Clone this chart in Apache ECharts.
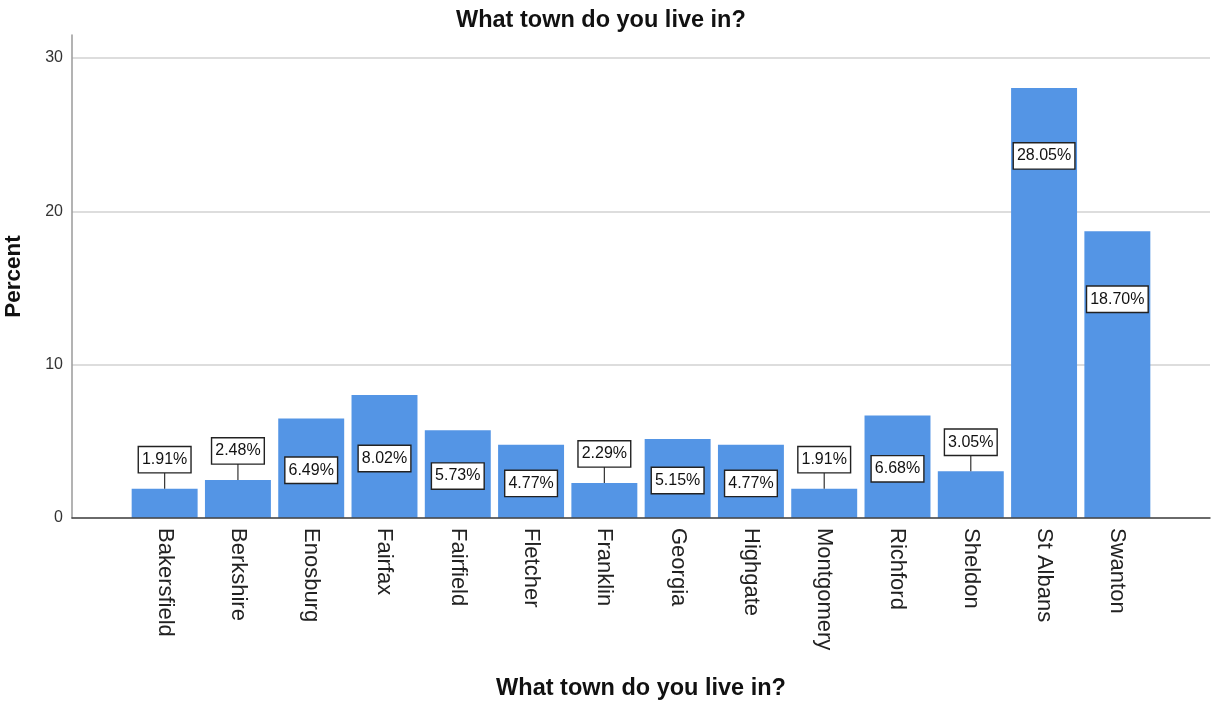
<!DOCTYPE html>
<html>
<head>
<meta charset="utf-8">
<script src="https://cdn.jsdelivr.net/npm/echarts@6/dist/echarts.min.js"></script>
<style>
html,body{margin:0;padding:0;background:#fff;}
#chart{width:1213px;height:702px;}
</style>
</head>
<body>
<div id="chart"></div>
<script>
const categories = ['Bakersfield','Berkshire','Enosburg','Fairfax','Fairfield','Fletcher','Franklin','Georgia','Highgate','Montgomery','Richford','Sheldon','St Albans','Swanton'];
const percents = [1.91, 2.48, 6.49, 8.02, 5.73, 4.77, 2.29, 5.15, 4.77, 1.91, 6.68, 3.05, 28.05, 18.70];
const yTicks = [0, 10, 20, 30];

const FONT = '"Liberation Sans", Arial, sans-serif';
const BAR_COLOR = '#5495e5';
const Y_MAX = 31.5;
const GRID_TOP = 35;
const GRID_BOTTOM = 184;

const chart = echarts.init(document.getElementById('chart'));

function renderLabel(params, api) {
  const i = api.value(0);
  const v = api.value(1);
  const top = api.coord([i, v]);
  const base = api.coord([i, 0]);
  const h = base[1] - top[1];
  const text = v.toFixed(2) + '%';
  const children = [];
  let cy;
  if (v < 4) {
    const gap = 16;
    children.push({
      type: 'line',
      shape: { x1: top[0], y1: top[1], x2: top[0], y2: top[1] - gap },
      style: { stroke: '#333', lineWidth: 1.2 }
    });
    cy = top[1] - gap - 13;
  } else {
    cy = top[1] + Math.min(h / 2 + 2, 68);
  }
  children.push({
    type: 'text',
    x: top[0],
    y: cy,
    style: {
      text: text,
      align: 'center',
      verticalAlign: 'middle',
      font: '16px ' + FONT,
      fill: '#111',
      backgroundColor: '#fff',
      borderColor: '#222',
      borderWidth: 1.4,
      padding: [5, 3, 4, 3]
    }
  });
  return { type: 'group', children: children };
}

const option = {
  backgroundColor: '#fff',
  animation: false,
  title: {
    text: 'What town do you live in?',
    left: 451,
    top: 4,
    textStyle: { fontFamily: FONT, fontSize: 23.5, fontWeight: 'bold', color: '#111' }
  },
  grid: [
    { left: 72, right: 3, top: GRID_TOP, bottom: GRID_BOTTOM, containLabel: false, outerBoundsMode: 'none' },
    { left: 128, right: 59, top: GRID_TOP, bottom: GRID_BOTTOM, containLabel: false, outerBoundsMode: 'none' }
  ],
  xAxis: [
    {
      gridIndex: 0, type: 'value', min: 0, max: 1,
      axisLine: { show: true, lineStyle: { color: '#444', width: 1.5 } },
      axisTick: { show: false }, axisLabel: { show: false }, splitLine: { show: false },
      name: 'What town do you live in?', nameLocation: 'middle', nameGap: 159,
      nameTextStyle: { fontFamily: FONT, fontSize: 23.5, fontWeight: 'bold', color: '#111' },
      z: 5
    },
    {
      gridIndex: 1, type: 'category', data: categories,
      axisLine: { show: false }, axisTick: { show: false },
      axisLabel: { rotate: -90, margin: 10, fontFamily: FONT, fontSize: 22, color: '#222', interval: 0 }
    }
  ],
  yAxis: [
    {
      gridIndex: 0, type: 'value', min: 0, max: Y_MAX, interval: 10,
      axisLine: { show: true, lineStyle: { color: '#9a9a9a', width: 1.5 } },
      axisTick: { show: false },
      axisLabel: {
        fontFamily: FONT, fontSize: 16, color: '#333', margin: 9,
        formatter: function (val) { return yTicks.indexOf(val) >= 0 ? String(val) : ''; }
      },
      splitLine: { show: true, lineStyle: { color: ['#d2d2d2', '#d2d2d2', '#d2d2d2', '#d2d2d2', 'rgba(0,0,0,0)'], width: 1.5 } },
      name: 'Percent', nameLocation: 'middle', nameGap: 47, nameRotate: 90,
      nameTextStyle: { fontFamily: FONT, fontSize: 22.5, fontWeight: 'bold', color: '#111' }
    },
    {
      gridIndex: 1, type: 'value', min: 0, max: Y_MAX, show: false
    }
  ],
  series: [
    {
      type: 'bar', xAxisIndex: 1, yAxisIndex: 1,
      data: percents,
      barCategoryGap: '10%',
      itemStyle: { color: BAR_COLOR },
      z: 2
    },
    {
      type: 'custom', xAxisIndex: 1, yAxisIndex: 1,
      data: percents.map((v, i) => [i, v]),
      renderItem: renderLabel,
      clip: false,
      z: 10
    }
  ]
};

chart.setOption(option);
</script>
</body>
</html>
